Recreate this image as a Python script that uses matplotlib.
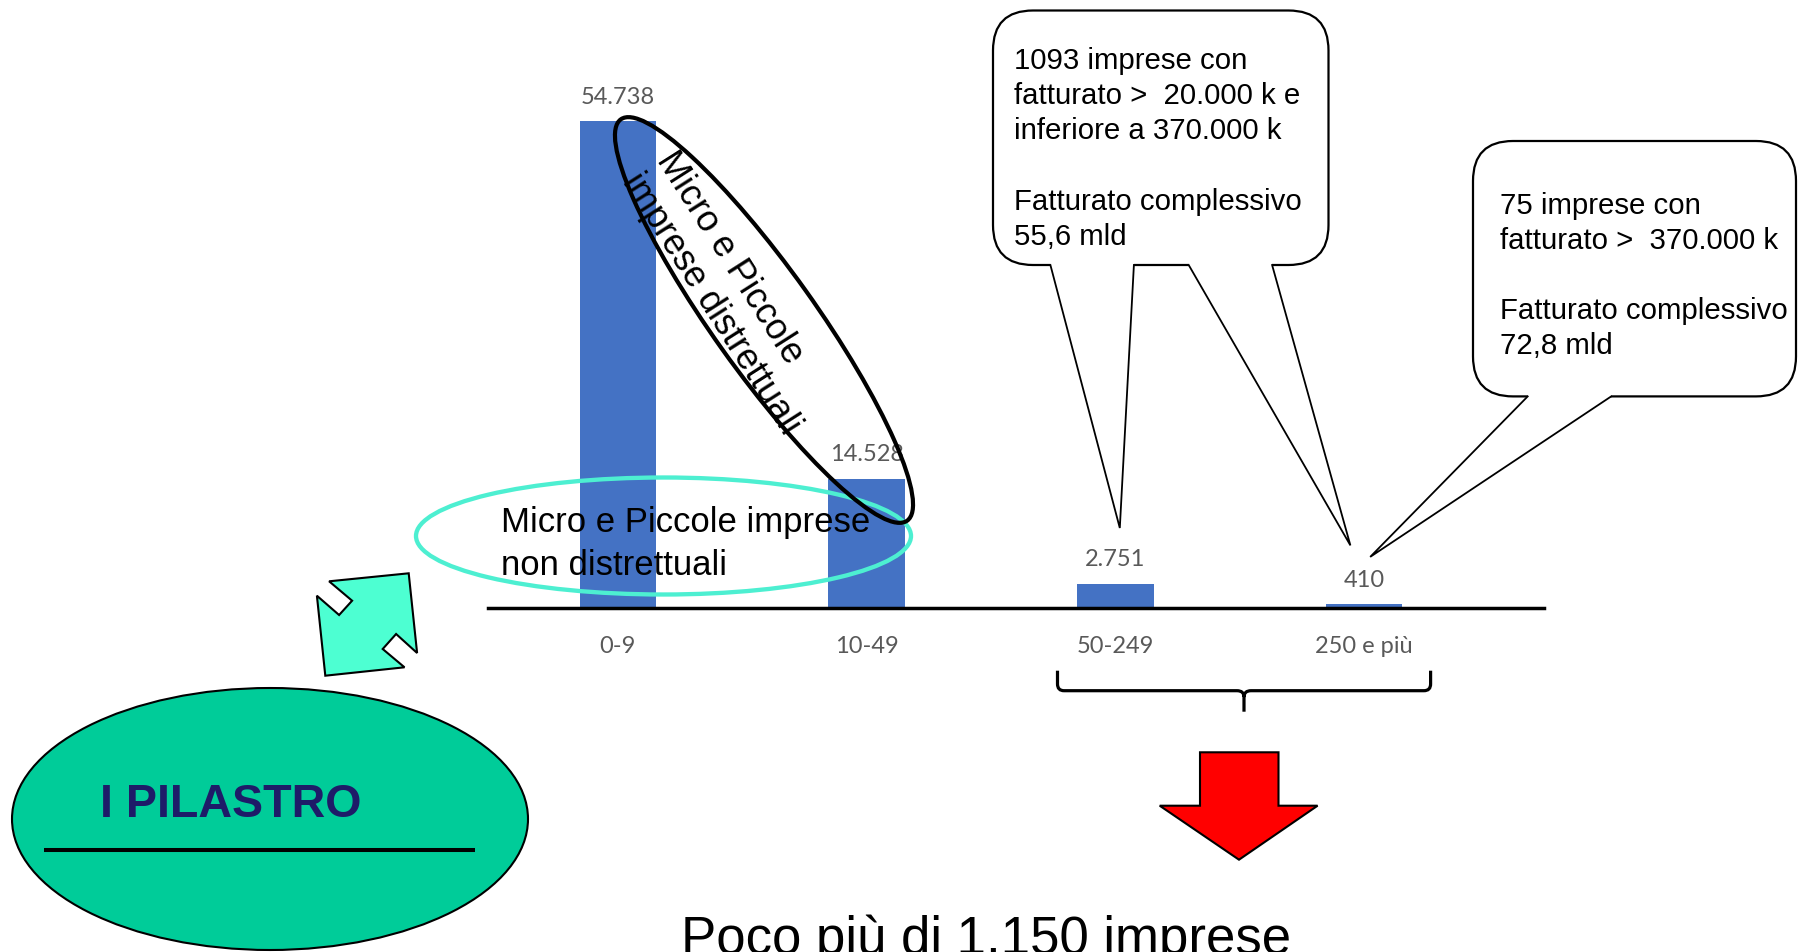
import matplotlib
matplotlib.use('Agg')
import matplotlib.pyplot as plt
from matplotlib.patches import Ellipse, Polygon, FancyBboxPatch, PathPatch
from matplotlib.path import Path

plt.rcParams['font.family'] = ['Liberation Sans', 'DejaVu Sans']

# ---- data ----
classi = ['0-9', '10-49', '50-249', '250 e più']
imprese = [54738, 14528, 2751, 410]

nota_medie = ['1093 imprese con', 'fatturato >  20.000 k e', 'inferiore a 370.000 k',
              '', 'Fatturato complessivo', '55,6 mld']
nota_grandi = ['75 imprese con', 'fatturato >  370.000 k', '',
               'Fatturato complessivo', '72,8 mld']
etichetta_ellisse = ['Micro e Piccole imprese', 'non distrettuali']
etichetta_diagonale = ['Micro e Piccole', 'imprese distrettuali']
titolo_pilastro = 'I PILASTRO'
conclusione = 'Poco più di 1.150 imprese'

W, H = 1798, 953
fig = plt.figure(figsize=(W / 100, H / 100), dpi=100)

# ---- bar chart ----
x0, x1 = 488, 1543.5
base_y, top_y = 609, 122
ymax = 60000
ax_h = ymax * (base_y - top_y) / max(imprese)
ax = fig.add_axes([x0 / W, (H - base_y) / H, (x1 - x0) / W, ax_h / H])
pos = list(range(len(classi)))
bars = ax.bar(pos, imprese, width=0.307, color='#4472C4', zorder=2)
ax.set_xlim(-0.522, 3.721)
ax.set_ylim(0, ymax)
for s in ['top', 'right', 'left']:
    ax.spines[s].set_visible(False)
ax.spines['bottom'].set_linewidth(2.5)
ax.spines['bottom'].set_color('black')
ax.spines['bottom'].set_zorder(3)
ax.set_xticks([])
ax.set_yticks([])
ax.patch.set_alpha(0)

lab_kw = dict(fontfamily=['Lato', 'DejaVu Sans'], fontsize=17, color='#595959',
              ha='center', va='center', annotation_clip=False)
for b, v in zip(bars, imprese):
    ax.annotate(f'{v:,}'.replace(',', '.'), xy=(b.get_x() + b.get_width() / 2, v),
                xytext=(0, 18), textcoords='offset points', **lab_kw)
for p, c in zip(pos, classi):
    ax.annotate(c, xy=(p, 0), xytext=(0, -27.2), textcoords='offset points', **lab_kw)

# ---- overlay in pixel coordinates ----
ov = fig.add_axes([0, 0, 1, 1])
ov.set_xlim(0, W)
ov.set_ylim(H, 0)
ov.axis('off')
ov.patch.set_alpha(0)

# turquoise ellipse around the lower part of the small-firm bars
ov.add_patch(Ellipse((663.5, 537), 495, 117, fill=False, ec='#4DEFD1', lw=3.1, zorder=5))
for txt, yb in zip(etichetta_ellisse, [532, 575]):
    ov.text(501, yb, txt, fontsize=25, ha='left', va='baseline', zorder=6)

# tilted black ellipse with rotated label
ov.add_patch(Ellipse((764, 321), 493, 102, angle=54.5, fill=False, ec='black', lw=3, zorder=5))
for txt, (xb, yb) in zip(etichetta_diagonale, [(656, 160.5), (621.6, 181.5)]):
    ov.text(xb, yb, txt, fontsize=26, rotation=-57.5, rotation_mode='anchor',
            ha='left', va='baseline', zorder=6)


def callout(x, y, w, h, tails, lines, tx, yb0, step=35.2):
    ov.add_patch(FancyBboxPatch((x, y), w, h, boxstyle='round,pad=0,rounding_size=40',
                                fc='white', ec='black', lw=1.6, zorder=7))
    for (ba, bb, tip) in tails:
        ov.add_patch(Polygon([(ba, y + h - 4), (bb, y + h - 4), (bb, y + h), tip, (ba, y + h)],
                             closed=True, fc='white', ec='none', zorder=8))
        ov.plot([ba, tip[0], bb], [y + h, tip[1], y + h], color='black', lw=1.3,
                zorder=9, solid_joinstyle='miter')
    for i, t in enumerate(lines):
        if t:
            ov.text(tx, yb0 + i * step, t, fontsize=21.2, ha='left', va='baseline', zorder=10)


callout(993, 11.5, 335.5, 254.5,
        [(1050.4, 1133.9, (1119.8, 529)), (1188.7, 1272.1, (1350.4, 546.4))],
        nota_medie, 1014, 69)
callout(1473, 142, 323, 255.4,
        [(1527.7, 1611.2, (1370.2, 557.9))],
        nota_grandi, 1500, 213.5)

# brace under the two larger classes
bv = [(1057.5, 671.7), (1057.5, 685), (1057.5, 691.7), (1064, 691.7),
      (1237, 691.7), (1244, 691.7), (1244, 698), (1244, 712.7)]
bc = [Path.MOVETO, Path.LINETO, Path.CURVE3, Path.CURVE3,
      Path.LINETO, Path.CURVE3, Path.CURVE3, Path.LINETO]
bv2 = [(1244, 698), (1244, 691.7), (1251, 691.7), (1424, 691.7),
       (1430.6, 691.7), (1430.6, 685), (1430.6, 671.7)]
bc2 = [Path.MOVETO, Path.CURVE3, Path.CURVE3, Path.LINETO,
       Path.CURVE3, Path.CURVE3, Path.LINETO]
ov.add_patch(PathPatch(Path(bv + bv2, bc + bc2), fill=False, ec='black', lw=2.3,
                       capstyle='butt', zorder=5))

# red down arrow
ov.add_patch(Polygon([(1200, 753.3), (1278.5, 753.3), (1278.5, 806.7), (1317.6, 806.7),
                      (1239, 860.7), (1159.7, 806.7), (1200, 806.7)],
                     closed=True, fc='#FF0000', ec='black', lw=1.5, zorder=5))

# diagonal double arrow
ov.add_patch(Polygon([(329.1, 582.3), (408.7, 574.3), (417.1, 654.0), (396.1, 635.0),
                      (382.7, 650.0), (404.5, 668.3), (325.3, 676.7), (316.9, 596.7),
                      (339.1, 616.0), (352.1, 601.7)],
                     closed=True, fc='#4DFFD2', ec='black', lw=1.5, zorder=5))

# green ellipse with title
ov.add_patch(Ellipse((270, 820), 516, 262, fc='#00CC99', ec='black', lw=1.5, zorder=4))
ov.text(100, 816.7, titolo_pilastro, fontsize=33.6, fontweight='bold', color='#1E1B68',
        ha='left', va='baseline', zorder=6)
ov.plot([44, 475.3], [850.7, 850.7], color='black', lw=2.9, solid_capstyle='butt', zorder=6)

# closing statement
ov.text(681, 954, conclusione, fontsize=38, ha='left', va='baseline', zorder=6)

fig.savefig('out.png', dpi=100)
